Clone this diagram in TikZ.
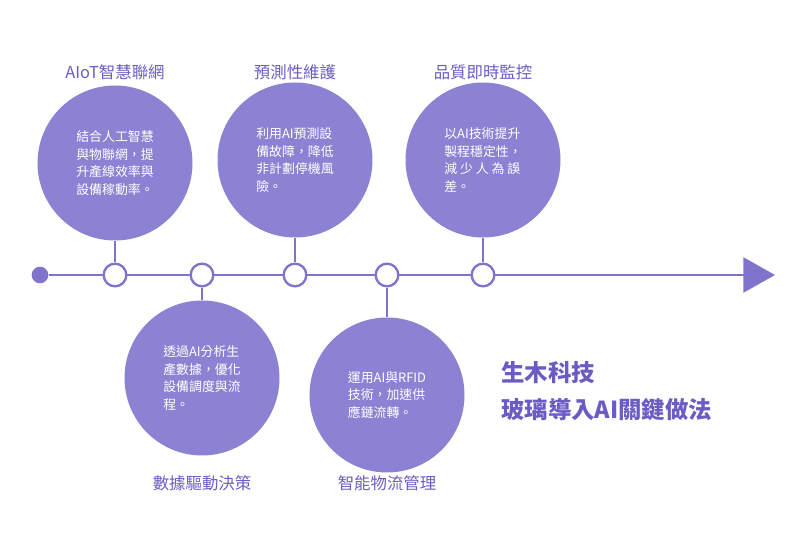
\documentclass[tikz,border=0pt]{standalone}
\usepackage{fontspec}
\setmainfont{Noto Sans CJK TC}
\usetikzlibrary{arrows.meta}
\definecolor{lav}{HTML}{8C82D3}
\definecolor{lavline}{HTML}{7F74CC}
\definecolor{lavtext}{HTML}{6B5CC4}
\tikzset{
  bubble/.style={circle,fill=lav,minimum size=155*0.03cm,inner sep=0pt,text=white,font=\fontsize{11}{15}\selectfont,align=left},
  knot/.style={circle,draw=lavline,line width=2pt,fill=white,minimum size=0.68cm,inner sep=0pt},
  title/.style={text=lavtext,font=\fontsize{14}{16}\selectfont},
  link/.style={lavline,line width=2.2pt}
}
\begin{document}
\begin{tikzpicture}[x=0.03cm,y=-0.03cm]
\useasboundingbox (0,0) rectangle (800,545);

\node[circle,fill=lavline,minimum size=0.5cm,inner sep=0pt] (start) at (40,275) {};
\coordinate (end) at (775,275);
\draw[link,-{Triangle[length=0.95cm,width=1.05cm]}] (start) -- (end);

\node[knot] (k1) at (115,275) {};
\node[knot] (k2) at (202,275) {};
\node[knot] (k3) at (295,275) {};
\node[knot] (k4) at (387,275) {};
\node[knot] (k5) at (483,275) {};

\node[bubble] (b1) at (115,163) {結合人工智慧\\與物聯網，提\\升產線效率與\\設備稼動率。};
\node[bubble] (b3) at (295,160) {利用AI預測設\\備故障，降低\\非計劃停機風\\險。};
\node[bubble] (b5) at (483,160) {以AI技術提升\\製程穩定性，\\減 少 人 為 誤\\差。};
\node[bubble] (b2) at (202,378) {透過AI分析生\\產數據，優化\\設備調度與流\\程。};
\node[bubble] (b4) at (387,395) {運用AI與RFID\\技術，加速供\\應鏈流轉。};

\foreach \i in {1,...,5}
  \draw[link] (b\i) -- (k\i);

\node[title] at (115,72) {AIoT智慧聯網};
\node[title] at (295,72) {預測性維護};
\node[title] at (483,72) {品質即時監控};
\node[title] at (202,483) {數據驅動決策};
\node[title] at (387,483) {智能物流管理};

\node[text=lavtext,font=\fontsize{20}{24}\selectfont\bfseries,anchor=west] (brand) at (497,373) {生木科技};
\node[text=lavtext,font=\fontsize{20}{24}\selectfont\bfseries,anchor=west] (topic) at (497,410) {玻璃導入AI關鍵做法};
\end{tikzpicture}
\end{document}
